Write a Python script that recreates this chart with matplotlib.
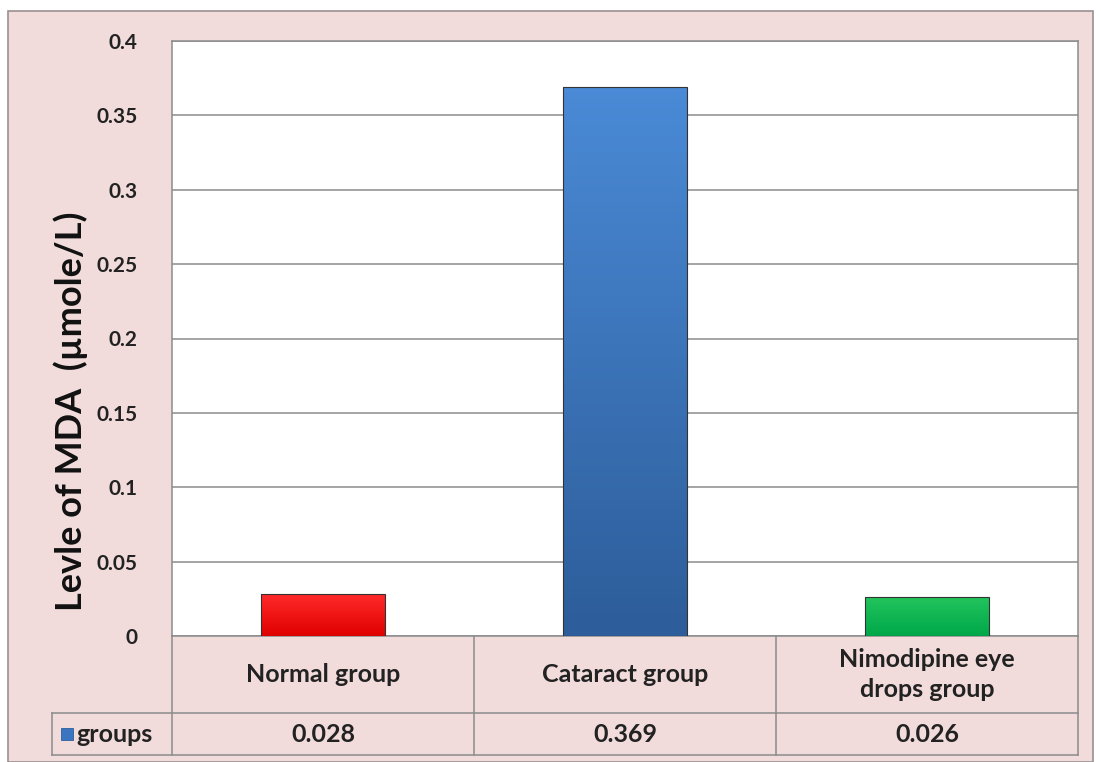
import matplotlib.pyplot as plt
import numpy as np
from matplotlib.patches import Rectangle
from matplotlib.colors import LinearSegmentedColormap

# 数据
groups = ["Normal group", "Cataract group", "Nimodipine eye\ndrops group"]
mda = [0.028, 0.369, 0.026]
value_labels = ["0.028", "0.369", "0.026"]
series_name = "groups"
y_ticks = [0, 0.05, 0.1, 0.15, 0.2, 0.25, 0.3, 0.35, 0.4]
tick_labels = ["0", "0.05", "0.1", "0.15", "0.2", "0.25", "0.3", "0.35", "0.4"]

plt.rcParams['font.family'] = ['Lato', 'DejaVu Sans']

pink = "#f2dcdb"
line_c = "#8c8c8c"
# 渐变色（上浅下深）
grads = [("#ff2a2a", "#e00000"), ("#4a8ad6", "#2d5d9a"), ("#22c45c", "#00a84a")]
txt_c = "#222222"
fs = 18

W, H = 1101, 762
fig = plt.figure(figsize=(W / 100, H / 100), dpi=100)
fig.patch.set_facecolor("white")

# 外框
fig.patches.append(Rectangle((8 / W, 0), (1093 - 8) / W, (H - 11) / H,
                             transform=fig.transFigure, facecolor=pink,
                             edgecolor="#9a9090", linewidth=1.2, zorder=-10))

L, R, T, B = 172, 1078, 41, 636
ax = fig.add_axes([L / W, 1 - B / H, (R - L) / W, (B - T) / H])
ax.set_facecolor("white")
ax.set_zorder(1)

x = np.arange(len(groups))
bw = 0.41
for i, v in enumerate(mda):
    cmap = LinearSegmentedColormap.from_list("g", [grads[i][0], grads[i][1]])
    grad = np.linspace(0, 1, 100).reshape(-1, 1)
    ax.imshow(grad, cmap=cmap, aspect="auto", origin="upper",
              extent=(x[i] - bw / 2, x[i] + bw / 2, 0, v), zorder=3)
    ax.add_patch(Rectangle((x[i] - bw / 2, 0), bw, v, facecolor="none",
                           edgecolor="#333333", linewidth=0.8, zorder=4))

ax.set_xlim(-0.5, 2.5)
ax.set_ylim(0, 0.4)
ax.set_yticks(y_ticks)
ax.set_yticklabels(tick_labels, fontsize=15, fontweight="bold", color=txt_c)
ax.tick_params(axis="y", length=0, pad=25)
ax.set_xticks([])
ax.grid(axis="y", color=line_c, linewidth=1.1)
ax.set_axisbelow(True)
for s in ax.spines.values():
    s.set_color(line_c)
    s.set_linewidth(1.1)
ax.set_ylabel("Levle of MDA  (\u00b5mole/L)", fontsize=26, fontweight="bold",
              color="#111111")
ax.yaxis.set_label_coords(-0.093, 0.378)

# 数据表
r1, r2 = 713, 755
col_w = (R - L) / 3
def fx(px):
    return px / W
def fy(py):
    return 1 - py / H

kw = dict(transform=fig.transFigure, color=line_c, linewidth=1.1)
fig.add_artist(plt.Line2D([fx(L), fx(L)], [fy(B), fy(r2)], **kw))
fig.add_artist(plt.Line2D([fx(R), fx(R)], [fy(B), fy(r2)], **kw))
fig.add_artist(plt.Line2D([fx(52), fx(R)], [fy(r1), fy(r1)], **kw))
fig.add_artist(plt.Line2D([fx(52), fx(R)], [fy(r2), fy(r2)], **kw))
fig.add_artist(plt.Line2D([fx(52), fx(52)], [fy(r1), fy(r2)], **kw))
for k in range(1, 3):
    xc = L + k * col_w
    fig.add_artist(plt.Line2D([fx(xc), fx(xc)], [fy(B), fy(r2)], **kw))

for i, g in enumerate(groups):
    xc = L + (i + 0.5) * col_w
    fig.text(fx(xc), fy((B + r1) / 2), g, ha="center", va="center",
             fontsize=fs, fontweight="bold", color=txt_c, linespacing=1.4)
    fig.text(fx(xc), fy((r1 + r2) / 2), value_labels[i], ha="center", va="center",
             fontsize=fs, fontweight="bold", color=txt_c)

# 图例方块
fig.patches.append(Rectangle((fx(61), fy(740)), 12 / W, 12 / H,
                             transform=fig.transFigure, facecolor="#3b74c0",
                             edgecolor="#2d5d9a", linewidth=0.6))
fig.text(fx(76), fy((r1 + r2) / 2), series_name, ha="left", va="center",
         fontsize=fs, fontweight="bold", color=txt_c)

plt.savefig("out.png", dpi=100)
plt.close()
